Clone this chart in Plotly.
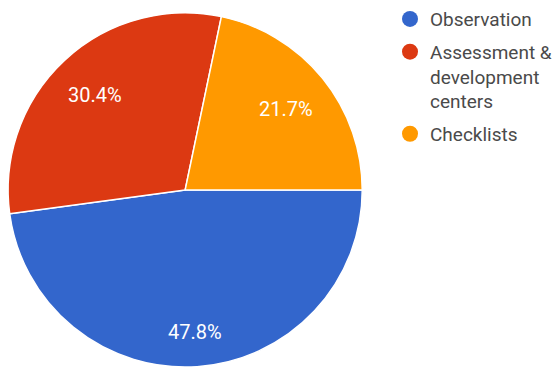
import math
import plotly.graph_objects as go

# Survey answers: share of each assessment method
labels = ["Observation", "Assessment &<br>development<br>centers", "Checklists"]
values = [47.8, 30.4, 21.7]
colors = ["#3366cc", "#dc3912", "#ff9900"]

W, H = 557, 369
CX, CY, R = 185.5, 187.0, 177.5   # pie centre and radius in pixels
PAD = 2.5                         # plotly draws the pie slightly inside its domain

fig = go.Figure()

fig.add_trace(go.Pie(
    labels=labels,
    values=values,
    sort=False,
    direction="clockwise",
    rotation=90,
    marker=dict(colors=colors, line=dict(color="white", width=1.5)),
    textinfo="none",
    domain=dict(
        x=[(CX - R - PAD) / W, (CX + R + PAD) / W],
        y=[1 - (CY + R + PAD) / H, 1 - (CY - R - PAD) / H],
    ),
    showlegend=False,
    hoverinfo="label+percent",
))

# Percentage labels: placed along each slice's bisector so the far corner of
# the text box sits a fixed distance inside the rim
total = sum(values)
half_w, half_h = 28.0, 10.0
reach = 0.895 * R
cum = 0.0
for v in values:
    mid = math.radians(360.0 * (cum + v / 2.0) / total)
    cum += v
    c, s = math.cos(mid), math.sin(mid)
    b = half_w * abs(c) + half_h * abs(s)
    r = -b + math.sqrt(b * b - (half_w ** 2 + half_h ** 2 - reach ** 2))
    px, py = CX + r * c, CY + r * s
    fig.add_annotation(
        x=px / W, y=1 - py / H, xref="paper", yref="paper",
        text=f"{100.0 * v / total:.1f}%", showarrow=False,
        font=dict(family="Roboto", size=20, color="white"),
        xanchor="center", yanchor="middle",
    )

# Legend entries drawn as round markers, one group each so a gap separates them
for i, (name, col) in enumerate(zip(labels, colors)):
    fig.add_trace(go.Scatter(
        x=[None], y=[None], mode="markers", name=name,
        legendgroup=f"g{i}",
        marker=dict(color=col, size=16, symbol="circle"),
    ))

fig.update_layout(
    width=W, height=H,
    margin=dict(l=0, r=0, t=0, b=0),
    paper_bgcolor="white", plot_bgcolor="white",
    font=dict(family="Roboto", color="#444444"),
    xaxis=dict(visible=False), yaxis=dict(visible=False),
    legend=dict(
        x=391 / W, y=1 + 6 / H, xanchor="left", yanchor="top",
        font=dict(family="Roboto", size=19, color="#4a4a4a"),
        itemwidth=30, tracegroupgap=5, valign="top",
        traceorder="grouped",
        bgcolor="rgba(0,0,0,0)",
    ),
)

fig.write_html("out.html")
